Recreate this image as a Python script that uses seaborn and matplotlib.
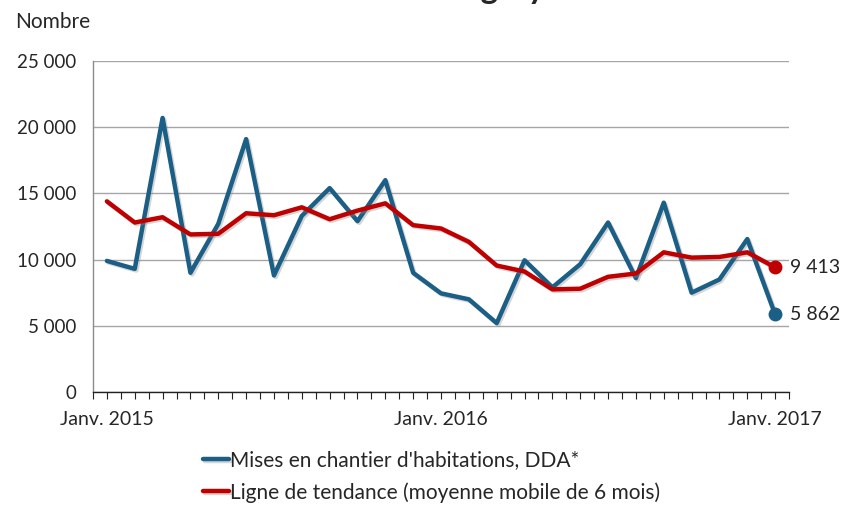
import numpy as np
import pandas as pd
import matplotlib
matplotlib.use("Agg")
import matplotlib.pyplot as plt
import matplotlib.patheffects as pe
from matplotlib.ticker import FuncFormatter, MultipleLocator
import seaborn as sns

# Monthly data, Jan 2015 .. Jan 2017
mois = list(range(25))
mises_en_chantier = [9900, 9300, 20700, 9000, 12700, 19100, 8800, 13300, 15400, 12900,
                     16000, 9000, 7450, 7000, 5200, 9950, 7900, 9650, 12800, 8600,
                     14300, 7500, 8500, 11550, 5862]
tendance = [14400, 12800, 13200, 11900, 11950, 13500, 13350, 13950, 13050, 13700,
            14250, 12600, 12350, 11340, 9550, 9100, 7750, 7800, 8700, 8950,
            10550, 10150, 10200, 10550, 9413]
tick_pos = [0, 12, 24]
tick_labels = ["Janv. 2015", "Janv. 2016", "Janv. 2017"]

df = pd.DataFrame({"mois": mois, "mises": mises_en_chantier, "tendance": tendance})

sns.set_theme(style="white")
plt.rcParams["font.family"] = ["Lato", "DejaVu Sans"]

blue = "#1C5F86"
red = "#C00000"

fig = plt.figure(figsize=(8.43, 5.05), dpi=100)
ax = fig.add_axes([0.1103, 0.2238, 0.8257, 0.6554])

shadow = [pe.SimpleLineShadow(offset=(1.2, -1.2), shadow_color="#888888", alpha=0.35), pe.Normal()]
sns.lineplot(data=df, x="mois", y="mises", ax=ax, color=blue, linewidth=3.2,
             path_effects=shadow, label="Mises en chantier d'habitations, DDA*", legend=False)
sns.lineplot(data=df, x="mois", y="tendance", ax=ax, color=red, linewidth=3.2,
             path_effects=shadow, label="Ligne de tendance (moyenne mobile de 6 mois)", legend=False)

# end points
ax.plot(mois[-1], mises_en_chantier[-1], "o", color=blue, markersize=9, zorder=5)
ax.plot(mois[-1], tendance[-1], "o", color=red, markersize=9, zorder=5)
ax.text(mois[-1] + 0.55, tendance[-1], "9 413", fontsize=14, va="center", ha="left", clip_on=False)
ax.text(mois[-1] + 0.55, mises_en_chantier[-1], "5 862", fontsize=14, va="center", ha="left", clip_on=False)

ax.set_xlim(-0.5, 24.5)
ax.set_ylim(0, 25000)
ax.yaxis.set_major_locator(MultipleLocator(5000))
ax.yaxis.set_major_formatter(FuncFormatter(lambda v, p: f"{int(v):,}".replace(",", " ")))
ax.set_xticks(tick_pos)
ax.set_xticklabels(tick_labels)
ax.set_xticks(np.arange(-0.5, 24.6, 0.5), minor=True)
ax.tick_params(axis="x", which="both", direction="out", length=5, width=0.8, color="#222222",
               bottom=True, labelsize=14, pad=9)
ax.tick_params(axis="y", length=0, labelsize=13.5, pad=12)
ax.set_xlabel("")
ax.set_ylabel("")

ax.grid(axis="y", color="#A6A6A6", linewidth=1.0)
ax.grid(axis="x", visible=False)
ax.set_axisbelow(True)
for s in ["top", "right"]:
    ax.spines[s].set_visible(False)
ax.spines["left"].set_color("#8C8C8C")
ax.spines["left"].set_linewidth(1.0)
ax.spines["bottom"].set_color("#222222")
ax.spines["bottom"].set_linewidth(1.0)

fig.text(0.018, 0.957, "Nombre", fontsize=15, ha="left", va="center")
# clipped chart title at the very top
fig.text(0.515, 1.002, "Calgary", fontsize=24, fontweight="bold", ha="left", va="baseline")

handles, labels = ax.get_legend_handles_labels()
fig.legend(handles, labels, loc="upper left", bbox_to_anchor=(0.2408, 0.108),
           frameon=False, fontsize=15, handlelength=1.25, handletextpad=0.05,
           labelspacing=0.55, borderaxespad=0, borderpad=0)

fig.savefig("out.png", dpi=100)
